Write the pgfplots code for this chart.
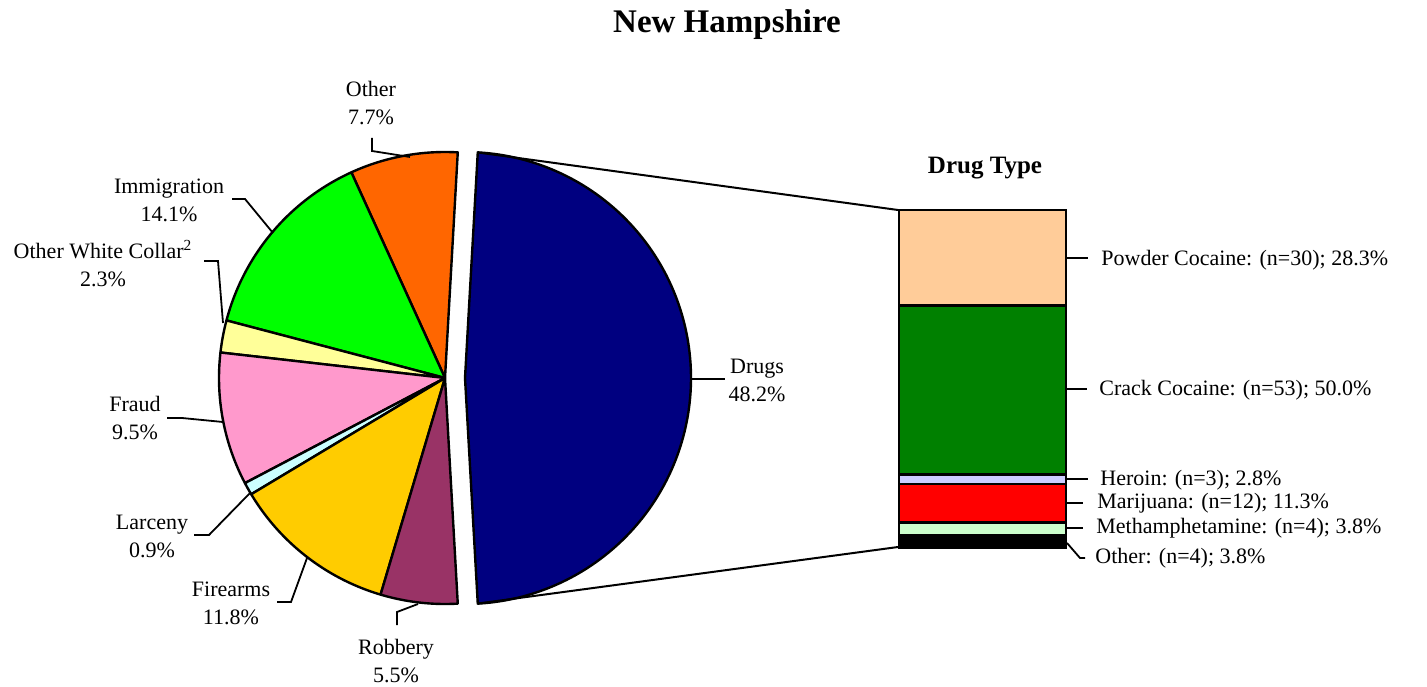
\documentclass[border=0pt]{standalone}
\usepackage{pgfplots}
\pgfplotsset{compat=1.18}
\usepgfplotslibrary{polar}
\usepackage{fontspec}
\setmainfont{Liberation Serif}
\definecolor{cDrugs}{HTML}{000080}
\definecolor{cOther}{HTML}{FF6600}
\definecolor{cImm}{HTML}{00FF00}
\definecolor{cOWC}{HTML}{FFFF99}
\definecolor{cFraud}{HTML}{FF99CC}
\definecolor{cLarc}{HTML}{CCFFFF}
\definecolor{cFire}{HTML}{FFCC00}
\definecolor{cRob}{HTML}{993366}
\definecolor{cPowder}{HTML}{FFCC99}
\definecolor{cCrack}{HTML}{008000}
\definecolor{cHer}{HTML}{CCCCFF}
\definecolor{cMar}{HTML}{FF0000}
\definecolor{cMeth}{HTML}{CCFFCC}
\newcommand{\lab}{\fontsize{11}{14}\selectfont}
\begin{document}
\begin{tikzpicture}
\path[use as bounding box] (0,0) rectangle (713.5pt,343pt);
% main pie (percent * 3.6 = degrees)
\begin{polaraxis}[at={(222.5pt,154pt)}, anchor=center, scale only axis,
  width=226pt, height=226pt, xmin=0, xmax=360, ymin=0, ymax=1,
  hide axis, clip=false]
\pgfplotsset{every axis plot/.append style={draw=black, line width=1.2pt, line join=round, samples=60}}
% Other 7.7%
\addplot[fill=cOther, domain=86.76:114.48] {1} -- (axis cs:0,0) -- cycle;
% Immigration 14.1%
\addplot[fill=cImm, domain=114.48:165.24] {1} -- (axis cs:0,0) -- cycle;
% Other White Collar 2.3%
\addplot[fill=cOWC, domain=165.24:173.52] {1} -- (axis cs:0,0) -- cycle;
% Fraud 9.5%
\addplot[fill=cFraud, domain=173.52:207.72] {1} -- (axis cs:0,0) -- cycle;
% Larceny 0.9%
\addplot[fill=cLarc, domain=207.72:210.96] {1} -- (axis cs:0,0) -- cycle;
% Firearms 11.8%
\addplot[fill=cFire, domain=210.96:253.44] {1} -- (axis cs:0,0) -- cycle;
% Robbery 5.5%
\addplot[fill=cRob, domain=253.44:273.24] {1} -- (axis cs:0,0) -- cycle;
\end{polaraxis}
% exploded Drugs slice 48.2%
\begin{polaraxis}[at={(232.5pt,154pt)}, anchor=center, scale only axis,
  width=226pt, height=226pt, xmin=0, xmax=360, ymin=0, ymax=1,
  hide axis, clip=false]
\addplot[fill=cDrugs, draw=black, line width=1.2pt, line join=round, samples=120, domain=-86.76:86.76] {1} -- (axis cs:0,0) -- cycle;
\end{polaraxis}
% drug type bar
\begin{axis}[at={(449.5pt,69pt)}, anchor=origin, scale only axis,
  width=83.5pt, height=169pt, xmin=0, xmax=1, ymin=0, ymax=100,
  hide axis, clip=false, ybar stacked, bar width=83.5pt]
\pgfplotsset{every axis plot/.append style={draw=black, line width=1.2pt}}
\addplot[fill=black] coordinates {(0.5,3.8)};
\addplot[fill=cMeth] coordinates {(0.5,3.8)};
\addplot[fill=cMar] coordinates {(0.5,11.3)};
\addplot[fill=cHer] coordinates {(0.5,2.8)};
\addplot[fill=cCrack] coordinates {(0.5,50.0)};
\addplot[fill=cPowder] coordinates {(0.5,28.3)};
\end{axis}
\begin{scope}[yshift=343pt, x=0.5pt, y=-0.5pt]
\node[font=\bfseries\fontsize{16.5}{20}\selectfont] at (727,25) {New Hampshire};
\node[font=\bfseries\fontsize{12.5}{15}\selectfont] at (985,168) {Drug Type};
% connectors
\draw[line width=1pt] (478,152.5) -- (898,210);
\draw[line width=1pt] (478,603.5) -- (898,547);
% pie labels
\begin{scope}[line width=0.9pt]
\draw (372,138) -- (372,151) -- (410,157);
\draw (232,199) -- (245,199) -- (273,233);
\draw (204,261) -- (218,261) -- (223,323);
\draw (167,418) -- (182,418) -- (223,422);
\draw (194,535) -- (209,535) -- (250,493);
\draw (277,602) -- (291,602) -- (307,558);
\draw (397,625) -- (397,612) -- (418,604);
\draw (692,379) -- (725,379);
\draw (1067,258) -- (1088,258);
\draw (1067,389) -- (1087,389);
\draw (1067,479) -- (1088,479);
\draw (1067,503) -- (1083,503);
\draw (1067,528) -- (1083,528);
\draw (1067,543) -- (1080,558) -- (1085,558);
\end{scope}
\begin{scope}[every node/.style={align=center, font=\lab, inner sep=0pt}]
\node at (371,103) {Other\\7.7\%};
\node at (169,200) {Immigration\\14.1\%};
\node at (103,264) {Other White Collar\textsuperscript{2}\\2.3\%};
\node at (135,418) {Fraud\\9.5\%};
\node at (152,536) {Larceny\\0.9\%};
\node at (231,603) {Firearms\\11.8\%};
\node at (396,661) {Robbery\\5.5\%};
\node at (757,380) {Drugs\\48.2\%};
\end{scope}
\begin{scope}[every node/.style={anchor=west, font=\lab, inner sep=0pt}]
\node at (1101,260) {Powder Cocaine: (n=30); 28.3\%};
\node at (1099,390) {Crack Cocaine: (n=53); 50.0\%};
\node at (1100,480) {Heroin: (n=3); 2.8\%};
\node at (1097,503) {Marijuana: (n=12); 11.3\%};
\node at (1096,528) {Methamphetamine: (n=4); 3.8\%};
\node at (1095,558) {Other: (n=4); 3.8\%};
\end{scope}
\end{scope}
\end{tikzpicture}
\end{document}
